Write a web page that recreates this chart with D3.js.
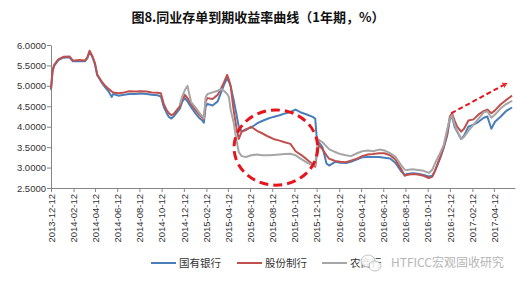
<!DOCTYPE html>
<html><head><meta charset="utf-8">
<script src="https://cdn.jsdelivr.net/npm/d3@7/dist/d3.min.js"></script>
<style>
body{margin:0;background:#fff;}
svg{display:block;font-family:"Liberation Sans",Arial,sans-serif;}
</style></head>
<body><svg id="c" width="529" height="283"></svg>
<script>
const title = "图8.同业存单到期收益率曲线（1年期，%）";
const seriesNames = ["国有银行","股份制行","农商行"];
const seriesColors = ["#4A7EBB","#C0504D","#A6A6A6"];
const xTickLabels = ["2013-12-12","2014-02-12","2014-04-12","2014-06-12","2014-08-12","2014-10-12","2014-12-12",
  "2015-02-12","2015-04-12","2015-06-12","2015-08-12","2015-10-12","2015-12-12",
  "2016-02-12","2016-04-12","2016-06-12","2016-08-12","2016-10-12","2016-12-12",
  "2017-02-12","2017-04-12"];
const yTicks = [2.5,3.0,3.5,4.0,4.5,5.0,5.5,6.0];
const dates = [
 "2013-12-12","2013-12-16","2013-12-20","2014-01-01","2014-01-15","2014-02-01","2014-02-10","2014-02-15",
 "2014-03-01","2014-03-15","2014-03-22","2014-03-28","2014-04-05","2014-04-12","2014-04-18","2014-04-25",
 "2014-05-01","2014-05-10","2014-05-20","2014-05-28","2014-06-01","2014-06-15","2014-07-01","2014-07-15",
 "2014-08-01","2014-08-15","2014-09-01","2014-09-15","2014-10-01","2014-10-10","2014-10-18","2014-10-25",
 "2014-11-01","2014-11-08","2014-11-15","2014-11-22","2014-12-01","2014-12-08","2014-12-15","2014-12-22",
 "2015-01-01","2015-01-15","2015-01-25","2015-02-01","2015-02-05","2015-02-10","2015-02-15","2015-03-01",
 "2015-03-15","2015-03-25","2015-04-01","2015-04-10","2015-04-15","2015-04-20","2015-04-28","2015-05-05",
 "2015-05-12","2015-05-20","2015-06-01","2015-06-15","2015-07-01","2015-07-15","2015-08-01","2015-08-15",
 "2015-09-01","2015-09-15","2015-10-01","2015-10-15","2015-11-01","2015-11-15","2015-12-01","2015-12-08",
 "2015-12-12","2015-12-18","2015-12-28","2016-01-08","2016-01-15","2016-02-01","2016-02-15","2016-03-01",
 "2016-03-15","2016-04-01","2016-04-15","2016-05-01","2016-05-15","2016-06-01","2016-06-15","2016-07-01",
 "2016-07-15","2016-08-01","2016-08-10","2016-08-15","2016-09-01","2016-09-15","2016-10-01","2016-10-15",
 "2016-10-25","2016-11-01","2016-11-15","2016-11-25","2016-12-05","2016-12-12","2016-12-18","2016-12-25",
 "2017-01-01","2017-01-12","2017-01-20","2017-02-01","2017-02-15","2017-03-01","2017-03-15","2017-03-25",
 "2017-04-05","2017-04-15","2017-05-01","2017-05-15","2017-06-01"];
const stateBanks = [
 4.90,5.33,5.48,5.63,5.69,5.70,5.60,5.60,
 5.61,5.60,5.68,5.84,5.70,5.52,5.26,5.16,
 5.07,4.96,4.85,4.73,4.80,4.76,4.78,4.80,
 4.80,4.81,4.80,4.78,4.77,4.74,4.48,4.35,
 4.24,4.20,4.26,4.34,4.44,4.62,4.70,4.62,
 4.48,4.30,4.20,4.15,4.10,4.50,4.56,4.52,
 4.62,4.85,5.02,5.19,5.10,4.98,4.65,4.33,
 4.00,3.88,3.94,3.98,4.08,4.14,4.20,4.24,
 4.28,4.32,4.36,4.42,4.34,4.30,4.24,4.20,
 3.75,3.62,3.50,3.10,3.05,3.14,3.12,3.11,
 3.14,3.20,3.25,3.26,3.26,3.26,3.24,3.22,
 3.12,2.90,2.82,2.84,2.86,2.85,2.82,2.78,
 2.80,2.92,3.22,3.48,3.80,4.18,4.25,4.00,
 3.88,3.70,3.78,4.00,4.05,4.12,4.22,4.25,
 3.95,4.12,4.25,4.38,4.47];
const jointStock = [
 4.93,5.35,5.50,5.65,5.71,5.72,5.62,5.62,
 5.63,5.62,5.70,5.86,5.72,5.55,5.28,5.18,
 5.10,5.00,4.92,4.86,4.84,4.82,4.84,4.87,
 4.86,4.87,4.86,4.84,4.83,4.82,4.55,4.42,
 4.33,4.28,4.32,4.40,4.50,4.68,4.78,4.70,
 4.55,4.38,4.28,4.22,4.18,4.62,4.70,4.68,
 4.78,4.95,5.08,5.27,5.15,4.98,4.40,4.00,
 3.70,3.88,3.92,4.00,3.90,3.84,3.76,3.70,
 3.66,3.62,3.58,3.40,3.30,3.20,3.08,3.02,
 3.30,3.55,3.45,3.30,3.22,3.16,3.14,3.13,
 3.17,3.22,3.28,3.32,3.33,3.35,3.35,3.30,
 3.20,2.95,2.80,2.82,2.84,2.83,2.80,2.74,
 2.78,2.92,3.25,3.50,3.85,4.25,4.33,4.15,
 4.00,3.88,3.95,4.15,4.18,4.30,4.38,4.42,
 4.33,4.40,4.55,4.65,4.76];
const ruralBanks = [
 null,null,null,null,null,null,null,null,
 null,null,null,null,null,null,null,null,
 null,null,null,null,null,null,null,null,
 null,null,null,null,null,null,null,null,
 null,null,null,null,4.55,4.75,4.90,5.00,
 4.60,4.45,4.32,4.25,4.20,4.72,4.80,4.84,
 4.88,4.92,4.88,4.80,4.72,4.40,4.10,3.70,
 3.38,3.28,3.26,3.30,3.32,3.30,3.30,3.31,
 3.32,3.33,3.34,3.30,3.20,3.12,3.06,3.05,
 3.45,3.68,3.62,3.52,3.45,3.38,3.33,3.30,
 3.28,3.35,3.40,3.42,3.40,3.44,3.42,3.35,
 3.27,3.05,2.95,2.94,2.96,2.94,2.92,2.87,
 2.95,3.10,3.35,3.55,3.95,4.20,4.28,4.05,
 3.90,3.70,3.75,3.90,4.05,4.20,4.35,4.38,
 4.22,4.30,4.45,4.55,4.63];
// annotation anchors (data space)
const ellipseBox = {x0:"2015-04-29", x1:"2015-12-15", y0:2.57, y1:4.41};
const arrowFrom = {d:"2016-12-16", v:4.33}, arrowTo = {d:"2017-05-17", v:5.06};

const parse = d3.timeParse("%Y-%m-%d");
const svg = d3.select("#c");
const x = d3.scaleTime().domain([parse("2013-12-12"), parse("2017-06-09")]).range([51, 515]);
const y = d3.scaleLinear().domain([2.5, 6]).range([188, 45]);

svg.append("text").attr("x", 258).attr("y", 22).attr("text-anchor","middle")
  .attr("font-family","'Noto Sans CJK SC',sans-serif").attr("font-weight","bold").attr("font-size",13)
  .attr("fill","#111").text(title);

// axes
const xAxis = d3.axisBottom(x).tickValues(xTickLabels.map(parse)).tickFormat(d3.timeFormat("%Y-%m-%d"))
  .tickSize(4).tickSizeOuter(0);
const gx = svg.append("g").attr("transform","translate(0,188)").call(xAxis);
gx.selectAll("text").attr("transform","rotate(-90)").attr("text-anchor","end")
  .attr("x",-6).attr("y",0).attr("dy","0.35em").attr("font-size",9.5).attr("fill","#333");
const yAxis = d3.axisLeft(y).tickValues(yTicks).tickFormat(d3.format(".4f")).tickSize(4).tickSizeOuter(0);
const gy = svg.append("g").attr("transform","translate(51,0)").call(yAxis);
gy.selectAll("text").attr("font-size",9.5).attr("fill","#333").attr("x",-5);
svg.selectAll(".domain, .tick line").attr("stroke","#868686");

// lines
const all = [stateBanks, jointStock, ruralBanks];
const line = d3.line().defined(d => d.v != null).x(d => x(d.d)).y(d => y(d.v));
all.forEach((vals, i) => {
  const pts = dates.map((d, j) => ({d: parse(d), v: vals[j]}));
  svg.append("path").datum(pts).attr("d", line).attr("fill","none")
    .attr("stroke", seriesColors[i]).attr("stroke-width", 2).attr("stroke-linejoin","round");
});

// annotations
const ex0 = x(parse(ellipseBox.x0)), ex1 = x(parse(ellipseBox.x1));
const ey0 = y(ellipseBox.y1), ey1 = y(ellipseBox.y0);
svg.append("ellipse").attr("cx",(ex0+ex1)/2).attr("cy",(ey0+ey1)/2)
  .attr("rx",(ex1-ex0)/2).attr("ry",(ey1-ey0)/2)
  .attr("fill","none").attr("stroke","#E8141B").attr("stroke-width",3).attr("stroke-dasharray","9,5");
svg.append("defs").append("marker").attr("id","ah").attr("viewBox","0 0 10 10").attr("refX",8).attr("refY",5)
  .attr("markerWidth",6).attr("markerHeight",6).attr("markerUnits","userSpaceOnUse").attr("orient","auto")
  .append("path").attr("d","M1,1 L8,5 L1,9").attr("fill","none").attr("stroke","#E8141B").attr("stroke-width",1.6);
svg.append("line").attr("x1",x(parse(arrowFrom.d))).attr("y1",y(arrowFrom.v))
  .attr("x2",x(parse(arrowTo.d))).attr("y2",y(arrowTo.v))
  .attr("stroke","#E8141B").attr("stroke-width",2).attr("stroke-dasharray","5,3")
  .attr("marker-end","url(#ah)");

// legend
const lx = [151, 237, 322];
seriesNames.forEach((n, i) => {
  svg.append("line").attr("x1",lx[i]).attr("x2",lx[i]+25).attr("y1",263).attr("y2",263)
    .attr("stroke",seriesColors[i]).attr("stroke-width",2);
  svg.append("text").attr("x",lx[i]+28).attr("y",267).attr("font-size",10.5)
    .attr("font-family","'Noto Sans CJK SC',sans-serif").attr("fill","#333").text(n);
});
// watermark
const wm = svg.append("g").attr("opacity",0.85);
wm.append("ellipse").attr("cx",368).attr("cy",261).attr("rx",7).attr("ry",6).attr("fill","#fff").attr("stroke","#bbb").attr("stroke-width",1);
wm.append("ellipse").attr("cx",375).attr("cy",266).attr("rx",6).attr("ry",5).attr("fill","#fff").attr("stroke","#bbb").attr("stroke-width",1);
wm.append("text").attr("x",391).attr("y",267).attr("font-size",12)
  .attr("font-family","'Noto Sans CJK SC',sans-serif").attr("fill","#aaa").text("HTFICC宏观固收研究");
</script></body></html>
